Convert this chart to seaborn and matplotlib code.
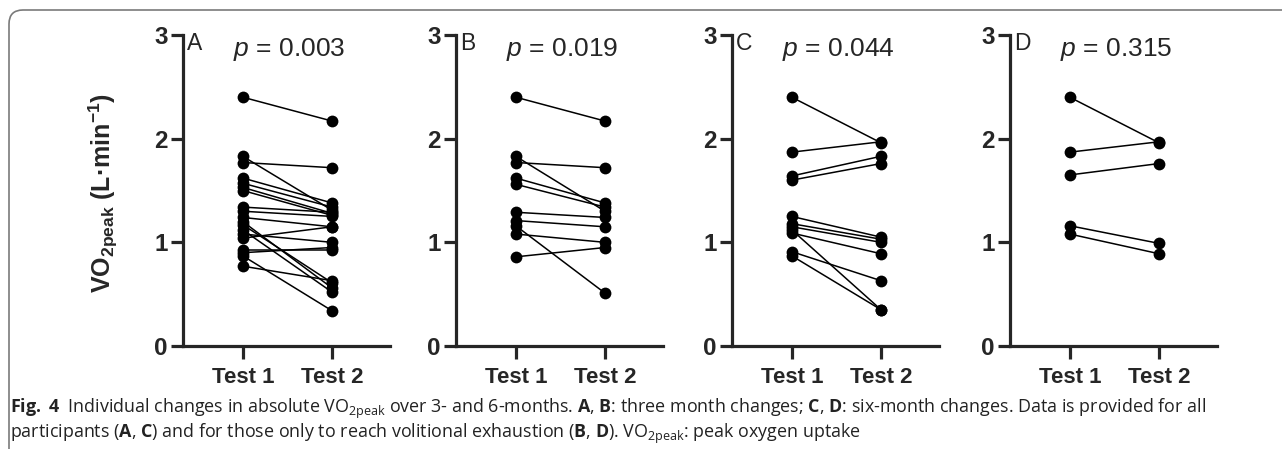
import pandas as pd
import matplotlib.pyplot as plt
import seaborn as sns
from matplotlib.patches import FancyBboxPatch

# VO2peak values (L/min), one pair per participant
a_test1 = [2.40, 1.83, 1.77, 1.62, 1.57, 1.53, 1.50, 1.34, 1.30, 1.24, 1.20, 1.17, 1.12, 1.08, 1.04, 0.93, 0.90, 0.87, 0.77]
a_test2 = [2.17, 1.31, 1.72, 1.38, 1.34, 1.28, 1.26, 1.29, 1.25, 1.15, 0.56, 0.61, 0.52, 1.00, 1.15, 0.93, 0.95, 0.34, 0.63]
b_test1 = [2.40, 1.83, 1.77, 1.62, 1.56, 1.29, 1.21, 1.16, 1.08, 0.86]
b_test2 = [2.17, 1.30, 1.72, 1.38, 1.34, 1.24, 1.15, 0.51, 1.00, 0.95]
c_test1 = [2.40, 1.87, 1.64, 1.60, 1.25, 1.18, 1.15, 1.12, 1.09, 0.91, 0.87]
c_test2 = [1.96, 1.97, 1.83, 1.76, 1.05, 1.03, 1.00, 0.35, 0.89, 0.63, 0.35]
d_test1 = [2.40, 1.87, 1.65, 1.16, 1.08]
d_test2 = [1.96, 1.97, 1.76, 0.99, 0.89]

panel_letters = ["A", "B", "C", "D"]
p_values = ["0.003", "0.019", "0.044", "0.315"]
test_labels = ["Test 1", "Test 2"]
y_ticks = [0, 1, 2, 3]

panels = [(a_test1, a_test2), (b_test1, b_test2), (c_test1, c_test2), (d_test1, d_test2)]

sns.set_style("ticks")
plt.rcParams["font.family"] = ["Liberation Sans", "DejaVu Sans"]
plt.rcParams["mathtext.fontset"] = "custom"
plt.rcParams["mathtext.it"] = "Liberation Sans:italic"
plt.rcParams["mathtext.bf"] = "Open Sans:bold"
plt.rcParams["mathtext.rm"] = "Open Sans"

W, H = 1282, 449
fig = plt.figure(figsize=(W / 100, H / 100), dpi=100)

# axes placement in pixels (left edge of y axis), same size for all panels
lefts = [183, 456, 732, 1010]
ax_w = 207
y_top, y_bot = 35, 346

for i, (t1, t2) in enumerate(panels):
    ax = fig.add_axes([lefts[i] / W, (H - y_bot) / H, ax_w / W, (y_bot - y_top) / H])
    n = len(t1)
    df = pd.DataFrame({
        "id": list(range(n)) * 2,
        "test": [0] * n + [1] * n,
        "vo2": t1 + t2,
    })
    sns.lineplot(data=df, x="test", y="vo2", units="id", estimator=None,
                 color="black", lw=1.1, marker="o", markersize=8.5,
                 markeredgecolor="black", markeredgewidth=0, ax=ax, clip_on=False)
    ax.set_xlim(-0.67, 1.65)
    ax.set_ylim(0, 3)
    ax.set_xticks([0, 1])
    ax.set_xticklabels(test_labels, fontsize=16, fontweight="bold")
    ax.set_yticks(y_ticks)
    ax.set_yticklabels([str(t) for t in y_ticks], fontsize=17.5, fontweight="bold")
    ax.set_xlabel("")
    ax.set_ylabel("")
    sns.despine(ax=ax)
    for s in ["left", "bottom"]:
        ax.spines[s].set_linewidth(2.3)
    ax.tick_params(width=2.3, length=9, pad=2, direction="out")
    ax.tick_params(axis="x", pad=6)
    ax.text(0.02, 1.01, panel_letters[i], transform=ax.transAxes,
            ha="left", va="top", fontsize=16.5)
    ax.text(0.52, 2.86, "$p$ = " + p_values[i], ha="center", va="center", fontsize=19)

fig.text(103 / W, 1 - 193 / H, r"VO$_\mathregular{2peak}$ (L·min$^\mathregular{-1}$)",
         rotation=90, ha="center", va="center", fontsize=18, fontweight="bold")

# caption
cap1 = (r"$\mathbf{Fig.\ 4}$  Individual changes in absolute VO$_\mathregular{2peak}$ over 3- and 6-months. "
        r"$\mathbf{A}$, $\mathbf{B}$: three month changes; $\mathbf{C}$, $\mathbf{D}$: six-month changes. "
        r"Data is provided for all")
cap2 = (r"participants ($\mathbf{A}$, $\mathbf{C}$) and for those only to reach volitional exhaustion "
        r"($\mathbf{B}$, $\mathbf{D}$). VO$_\mathregular{2peak}$: peak oxygen uptake")
fig.text(10 / W, 1 - 409 / H, cap1, ha="left", va="center", fontsize=12.9,
         family="Open Sans", color="#222222")
fig.text(10 / W, 1 - 434 / H, cap2, ha="left", va="center", fontsize=12.9,
         family="Open Sans", color="#222222")

# rounded frame around the figure (runs off the right and bottom edges)
frame = FancyBboxPatch((9, -60), W + 100, H - 10 + 60, boxstyle="round,pad=0,rounding_size=14",
                       transform=None, fill=False, ec="#7a7a7a", lw=1.2)
fig.add_artist(frame)

fig.savefig("out.png", dpi=100)
